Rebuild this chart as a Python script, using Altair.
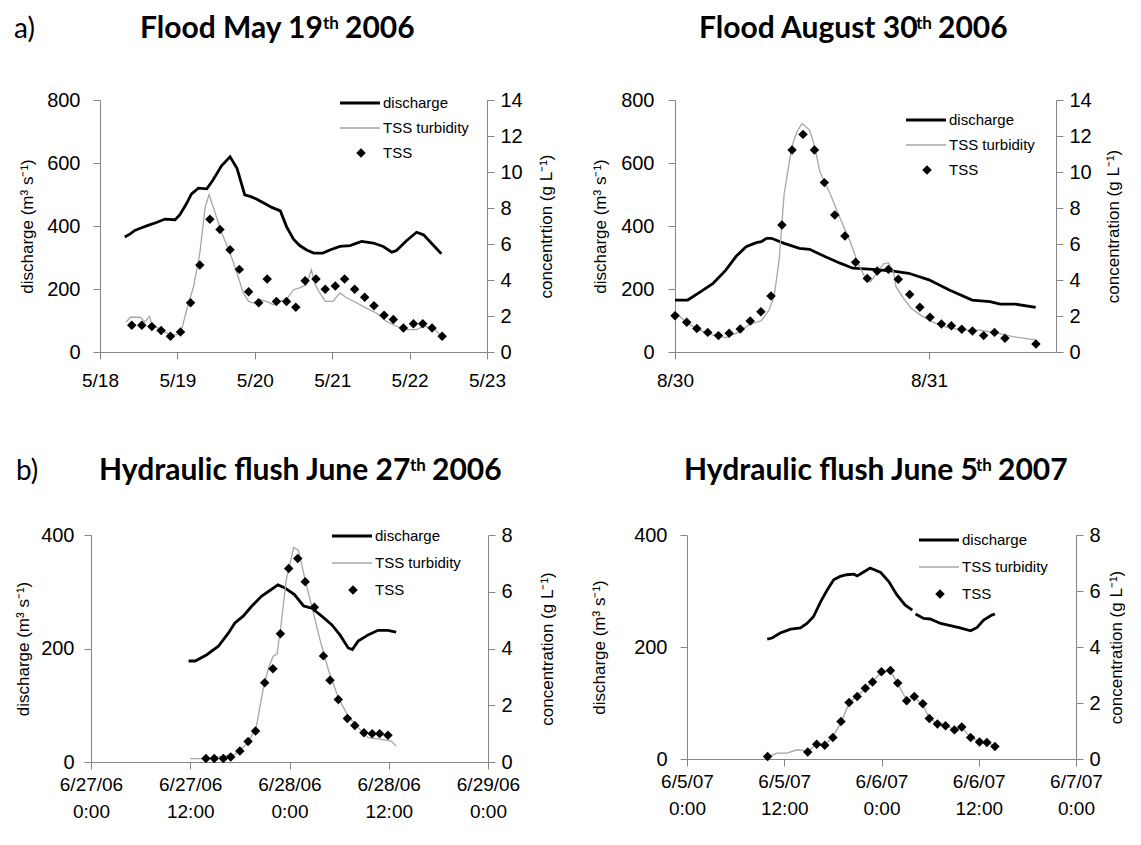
import json
import altair as alt
import pandas as pd

# ---------------- data ----------------
# a) Flood May 19th 2006  (time in days after 5/18 0:00)
p1_xlabels = ["5/18", "5/19", "5/20", "5/21", "5/22", "5/23"]
p1_q_t = [0.32, 0.39, 0.45, 0.52, 0.62, 0.73, 0.84, 0.97, 1.03, 1.12, 1.18, 1.27, 1.38, 1.46,
          1.57, 1.68, 1.77, 1.87, 1.94, 2.02, 2.11, 2.22, 2.33, 2.41, 2.50, 2.58, 2.67, 2.76,
          2.88, 2.97, 3.10, 3.23, 3.38, 3.53, 3.66, 3.77, 3.83, 3.96, 4.09, 4.18, 4.31, 4.41]
p1_q = [365, 375, 386, 393, 402, 411, 422, 420, 435, 472, 501, 520, 518, 546,
        591, 620, 583, 499, 494, 486, 474, 459, 448, 398, 358, 338, 324, 314,
        314, 324, 335, 338, 351, 346, 335, 317, 322, 353, 380, 372, 338, 312]
p1_turb_t = [0.34, 0.39, 0.52, 0.58, 0.64, 0.67, 0.78, 0.90, 1.00, 1.06, 1.12, 1.21, 1.29, 1.36,
             1.41, 1.46, 1.53, 1.59, 1.68, 1.77, 1.85, 1.92, 1.98, 2.07, 2.15, 2.24, 2.33, 2.41,
             2.50, 2.58, 2.67, 2.73, 2.78, 2.84, 2.91, 3.01, 3.10, 3.19, 3.32, 3.44, 3.57, 3.70,
             3.83, 3.96, 4.09, 4.18, 4.31, 4.41]
p1_turb = [1.67, 1.93, 1.93, 1.67, 1.98, 1.52, 1.24, 0.96, 0.96, 1.33, 2.35, 3.65, 5.5, 8.09,
           8.74, 8.09, 7.17, 6.43, 5.5, 4.39, 3.28, 2.81, 2.72, 2.91, 2.81, 2.63, 2.81, 2.91,
           3.46, 3.56, 3.74, 4.57, 3.74, 3.28, 2.81, 2.81, 3.28, 3.0, 2.72, 2.44, 2.17, 1.7,
           1.43, 1.24, 1.24, 1.43, 1.33, 0.87]
p1_tss_t = [0.41, 0.54, 0.67, 0.79, 0.91, 1.04, 1.17, 1.29, 1.42, 1.55, 1.68, 1.80, 1.92, 2.05,
            2.16, 2.28, 2.41, 2.53, 2.65, 2.79, 2.91, 3.04, 3.16, 3.29, 3.42, 3.54, 3.67, 3.79,
            3.92, 4.05, 4.17, 4.29, 4.42]
p1_tss = [1.48, 1.48, 1.41, 1.2, 0.87, 1.11, 2.74, 4.83, 7.37, 6.81, 5.68, 4.59, 3.35, 2.74,
          4.06, 2.81, 2.81, 2.48, 3.96, 4.06, 3.48, 3.67, 4.06, 3.48, 3.04, 2.57, 2.04, 1.8,
          1.33, 1.57, 1.57, 1.33, 0.87]

# Flood August 30th 2006 (days after 8/30 0:00)
p2_xlabels = ["8/30", "8/31"]
p2_q_t = [0.0, 0.05, 0.10, 0.15, 0.20, 0.24, 0.28, 0.32, 0.34, 0.36, 0.38, 0.43, 0.49, 0.53,
          0.59, 0.65, 0.70, 0.78, 0.86, 0.92, 1.0, 1.08, 1.17, 1.24, 1.28, 1.34, 1.42]
p2_q = [165, 165, 191, 218, 260, 303, 334, 347, 350, 361, 361, 345, 329, 326,
        303, 282, 266, 262, 257, 250, 229, 197, 165, 160, 152, 152, 142]
p2_turb_t = [0.0, 0.04, 0.09, 0.15, 0.20, 0.25, 0.29, 0.34, 0.37, 0.39, 0.41, 0.43, 0.46, 0.48,
             0.50, 0.53, 0.55, 0.57, 0.61, 0.65, 0.69, 0.72, 0.75, 0.77, 0.82, 0.84, 0.86, 0.87,
             0.90, 0.93, 0.97, 1.01, 1.07, 1.13, 1.20, 1.26, 1.33, 1.42]
p2_turb = [2.24, 1.69, 1.26, 0.94, 0.8, 1.09, 1.5, 1.74, 2.33, 3.07, 5.11, 8.82, 11.41, 12.24,
           12.7, 12.33, 11.41, 10.02, 8.82, 7.43, 6.13, 4.93, 4.1, 3.9, 4.89, 4.96, 4.46, 3.63,
           2.98, 2.43, 2.02, 1.69, 1.37, 1.22, 1.22, 1.07, 0.85, 0.67]
p2_tss_t = [0.0, 0.046, 0.086, 0.129, 0.171, 0.213, 0.257, 0.296, 0.338, 0.378, 0.421, 0.461,
            0.504, 0.549, 0.588, 0.629, 0.669, 0.711, 0.757, 0.796, 0.840, 0.879, 0.924, 0.964,
            1.004, 1.049, 1.088, 1.129, 1.171, 1.215, 1.258, 1.299, 1.421]
p2_tss = [2.02, 1.65, 1.31, 1.09, 0.91, 1.04, 1.28, 1.72, 2.24, 3.11, 7.06, 11.22,
          12.09, 11.22, 9.41, 7.61, 6.44, 4.98, 4.09, 4.5, 4.59, 4.04, 3.2, 2.48,
          1.93, 1.56, 1.46, 1.26, 1.17, 0.91, 1.09, 0.76, 0.44]

# b) Hydraulic flush June 27th 2006 (hours after 6/27/06 0:00)
p3_xlabels_date = ["6/27/06", "6/27/06", "6/28/06", "6/28/06", "6/29/06"]
p3_xlabels_time = ["0:00", "12:00", "0:00", "12:00", "0:00"]
p3_q_t = [11.8, 12.6, 14.0, 15.4, 16.6, 17.4, 18.4, 19.4, 20.6, 21.8, 22.6, 23.4, 24.6,
          25.7, 26.7, 27.9, 29.1, 30.1, 31.1, 31.6, 32.3, 33.5, 34.7, 35.9, 36.9]
p3_q = [178, 178, 189, 204, 227, 245, 257, 274, 292, 304, 312, 307, 295,
        275, 271, 257, 242, 224, 201, 198, 213, 224, 232, 232, 229]
p3_turb_t = [12.0, 13.8, 17.4, 19.0, 20.0, 20.8, 21.4, 22.0, 22.5, 23.0, 23.6, 24.5, 25.1,
             25.9, 26.9, 27.7, 28.7, 29.9, 31.1, 32.3, 33.5, 35.1, 36.3, 36.9]
p3_turb = [0.12, 0.12, 0.27, 0.68, 1.26, 2.55, 3.25, 3.72, 3.81, 4.89, 6.41, 7.56, 7.46,
           6.41, 5.24, 4.3, 3.25, 2.26, 1.61, 1.21, 0.86, 0.8, 0.74, 0.56]
p3_tss_t = [13.9, 14.9, 16.0, 16.9, 18.0, 19.0, 19.9, 21.0, 22.0, 22.9, 23.9, 25.0, 25.9,
            27.0, 28.1, 28.9, 29.9, 31.0, 31.9, 33.0, 34.0, 34.9, 35.9]
p3_tss = [0.12, 0.12, 0.12, 0.18, 0.39, 0.72, 1.09, 2.79, 3.29, 4.52, 6.82, 7.17, 6.35,
          5.45, 3.74, 2.88, 2.2, 1.53, 1.29, 1.03, 1.0, 1.0, 0.94]

# Hydraulic flush June 5th 2007 (hours after 6/5/07 0:00)
p4_xlabels_date = ["6/5/07", "6/5/07", "6/6/07", "6/6/07", "6/7/07"]
p4_xlabels_time = ["0:00", "12:00", "0:00", "12:00", "0:00"]
p4_q_t = [9.9, 10.5, 11.5, 12.8, 14.0, 14.8, 15.6, 16.5, 17.3, 18.1, 18.9, 19.7, 20.6, 21.0,
          21.8, 22.6, 23.9, 24.9, 25.9, 26.9, 27.8,
          28.2, 29.2, 30.0, 31.3, 32.5, 33.7, 35.0, 35.8, 36.6, 37.6, 38.0]
p4_q = [214, 216, 225, 232, 234, 242, 254, 281, 302, 320, 326, 329, 330, 327,
        334, 341, 333, 317, 293, 275, 266,
        259, 251, 250, 242, 238, 234, 229, 235, 248, 257, 259]
p4_q_gap = 28.0  # the discharge record is interrupted here
p4_turb_t = [9.95, 11.1, 12.3, 13.6, 14.4, 14.9, 16.0, 17.0, 18.0, 19.0, 20.0, 21.0, 22.0, 22.9,
             24.0, 25.1, 26.0, 27.1, 28.05, 29.1, 29.9, 30.9, 31.9, 33.0, 33.9, 35.0, 36.1, 37.0, 38.0]
p4_turb = [0.07, 0.21, 0.21, 0.33, 0.31, 0.25, 0.55, 0.5, 0.8, 1.3, 2.0, 2.25, 2.5, 2.78,
           3.1, 3.15, 2.7, 2.1, 2.2, 1.95, 1.45, 1.25, 1.2, 1.05, 1.12, 0.78, 0.62, 0.6, 0.45]
p4_tss_t = [9.95, 14.9, 16.0, 17.0, 18.0, 19.0, 20.0, 21.0, 22.0, 22.9, 24.0, 25.1, 26.0,
            27.1, 28.05, 29.1, 29.9, 30.9, 31.9, 33.0, 33.9, 35.0, 36.1, 37.0, 38.0]
p4_tss = [0.09, 0.25, 0.53, 0.49, 0.77, 1.34, 2.02, 2.23, 2.53, 2.75, 3.12, 3.16, 2.71,
          2.08, 2.23, 1.97, 1.45, 1.25, 1.19, 1.04, 1.14, 0.77, 0.61, 0.59, 0.45]

legend_labels = ["discharge", "TSS turbidity", "TSS"]
q_title = "discharge (m³ s⁻¹)"

# ---------------- styling ----------------
FONT = "Liberation Sans"
TFONT = "Lato"
AXC = "#868686"
TURB = "#a6a6a6"
ONE = alt.Data(values=[{"a": 1}])


def txt(s, x, y, size, bold=False, align="left", baseline="alphabetic", font=TFONT):
    return alt.Chart(ONE).mark_text(
        text=s, align=align, baseline=baseline, fontSize=size,
        fontWeight="bold" if bold else "normal", font=font, color="black"
    ).encode(x=alt.value(x), y=alt.value(y))


def legend_layers(x0, y0, dy):
    return [
        alt.Chart(ONE).mark_rule(color="black", strokeWidth=2.8).encode(
            x=alt.value(x0), x2=alt.value(x0 + 40), y=alt.value(y0)),
        alt.Chart(ONE).mark_rule(color=TURB, strokeWidth=1.3).encode(
            x=alt.value(x0), x2=alt.value(x0 + 40), y=alt.value(y0 + dy)),
        alt.Chart(ONE).mark_point(shape="diamond", filled=True, color="black", size=90,
                                  opacity=1).encode(x=alt.value(x0 + 21), y=alt.value(y0 + 2 * dy)),
        txt(legend_labels[0], x0 + 43, y0, 15, baseline="middle", font=FONT),
        txt(legend_labels[1], x0 + 43, y0 + dy, 15, baseline="middle", font=FONT),
        txt(legend_labels[2], x0 + 43, y0 + 2 * dy, 15, baseline="middle", font=FONT),
    ]


def title_layers(prefix, px, start, main_w, base, main, sup, rest):
    # title written in three pieces so that the ordinal suffix can be raised
    out = []
    if prefix:
        out.append(txt(prefix, px, base, 28))
    A = start + main_w
    out += [
        txt(main, start, base, 30, bold=True),
        txt(sup, A + 1, base - 9, 17, bold=True),
        txt(rest, A + 23, base, 30, bold=True),
    ]
    return out


def panel(q_t, q, turb_t, turb, tss_t, tss, w, h, xdom, xvals, xexpr, x_lp,
          qdom, qvals, cdom, cvals, ctitle, lpad, rpad, leg, titles, q_seg=None):
    xenc = alt.X("t:Q", scale=alt.Scale(domain=xdom, nice=False, zero=False),
                 axis=alt.Axis(values=xvals, labelExpr=xexpr, title=None, labelFlush=False,
                               labelOverlap=False, tickSize=7, labelPadding=x_lp,
                               labelFontSize=19, labelLineHeight=27))
    qaxis = alt.Axis(values=qvals, title=q_title, orient="left", tickSize=7,
                     labelPadding=lpad[0], titlePadding=lpad[1])
    caxis = alt.Axis(values=cvals, title=ctitle, orient="right", tickSize=7,
                     labelPadding=rpad[0], titlePadding=rpad[1], titleAngle=270,
                     titleBaseline="top")
    dq = pd.DataFrame({"t": q_t, "v": q})
    if q_seg is not None:
        dq["seg"] = [0 if t < q_seg else 1 for t in q_t]
    qenc = dict(x=xenc, y=alt.Y("v:Q", scale=alt.Scale(domain=qdom, nice=False), axis=qaxis))
    if q_seg is not None:
        qenc["detail"] = "seg:N"
    qline = alt.Chart(dq).mark_line(color="black", strokeWidth=2.8).encode(**qenc)
    cy = alt.Y("v:Q", scale=alt.Scale(domain=cdom, nice=False), axis=caxis)
    tline = alt.Chart(pd.DataFrame({"t": turb_t, "v": turb})).mark_line(
        color=TURB, strokeWidth=1.3).encode(x=xenc, y=cy)
    tpts = alt.Chart(pd.DataFrame({"t": tss_t, "v": tss})).mark_point(
        shape="diamond", filled=True, color="black", size=90, opacity=1).encode(x=xenc, y=cy)
    conc = alt.layer(tline, tpts)
    decor = legend_layers(*leg) + title_layers(*titles)
    return alt.layer(qline, conc, *decor).resolve_scale(y="independent").properties(
        width=w, height=h)


def lbl1(labels, step):
    return "%s[round(datum.value / %s)]" % (json.dumps(labels), step)


def lbl2(dates, times, step):
    pairs = [[d, t] for d, t in zip(dates, times)]
    return "%s[round(datum.value / %s)]" % (json.dumps(pairs), step)


def spacer():
    # empty 1px cell: lets each row line up by its own left edge
    return alt.Chart(ONE).mark_point(opacity=0).encode(
        x=alt.value(0), y=alt.value(0)).properties(width=1, height=1)


p1 = panel(p1_q_t, p1_q, p1_turb_t, p1_turb, p1_tss_t, p1_tss, 387, 252,
           [0, 5], [0, 1, 2, 3, 4, 5], lbl1(p1_xlabels, 1), 12,
           [0, 800], [0, 200, 400, 600, 800], [0, 14], [0, 2, 4, 6, 8, 10, 12, 14],
           "concentrtion (g L⁻¹)", (13, 10), (6, 16), (240, 3, 25),
           ("a)", -86, 40, 182, -62, "Flood May 19", "th", "2006"))
p2 = panel(p2_q_t, p2_q, p2_turb_t, p2_turb, p2_tss_t, p2_tss, 381, 252,
           [0, 1.5], [0, 1], lbl1(p2_xlabels, 1), 12,
           [0, 800], [0, 200, 400, 600, 800], [0, 14], [0, 2, 4, 6, 8, 10, 12, 14],
           "concentration (g L⁻¹)", (14, 11), (6, 14), (231, 20, 25),
           (None, 0, 24, 216, -62, "Flood August 30", "th", "2006"))
p3 = panel(p3_q_t, p3_q, p3_turb_t, p3_turb, p3_tss_t, p3_tss, 397, 227,
           [0, 48], [0, 12, 24, 36, 48], lbl2(p3_xlabels_date, p3_xlabels_time, 12), 6,
           [0, 400], [0, 200, 400], [0, 8], [0, 2, 4, 6, 8],
           "concentration (g L⁻¹)", (10, 8), (6, 27), (241, 1, 27),
           ("b)", -75, 8, 310, -55, "Hydraulic flush June 27", "th", "2006"))
p4 = panel(p4_q_t, p4_q, p4_turb_t, p4_turb, p4_tss_t, p4_tss, 389, 224,
           [0, 48], [0, 12, 24, 36, 48], lbl2(p4_xlabels_date, p4_xlabels_time, 12), 6,
           [0, 400], [0, 200, 400], [0, 8], [0, 2, 4, 6, 8],
           "concentration (g L⁻¹)", (13, 25), (6, 8), (232, 5, 27),
           (None, 0, -3, 291, -55, "Hydraulic flush June 5", "th", "2007"), q_seg=p4_q_gap)

row1 = alt.hconcat(alt.hconcat(spacer(), p1, spacing=0), p2, spacing=36)
row2 = alt.hconcat(alt.hconcat(spacer(), p3, spacing=0), p4, spacing=34)
chart = alt.vconcat(row1, row2, spacing=66).properties(
    padding={"left": 0, "top": 6, "right": 0, "bottom": 0}
).configure_axis(
    labelFont=FONT, titleFont=FONT, labelFontSize=20, titleFontSize=17,
    titleFontWeight="normal", labelColor="black", titleColor="black",
    domainColor=AXC, tickColor=AXC, grid=False
).configure_view(stroke=None)

chart.save("out.html", embed_options={"renderer": "svg", "actions": False})
